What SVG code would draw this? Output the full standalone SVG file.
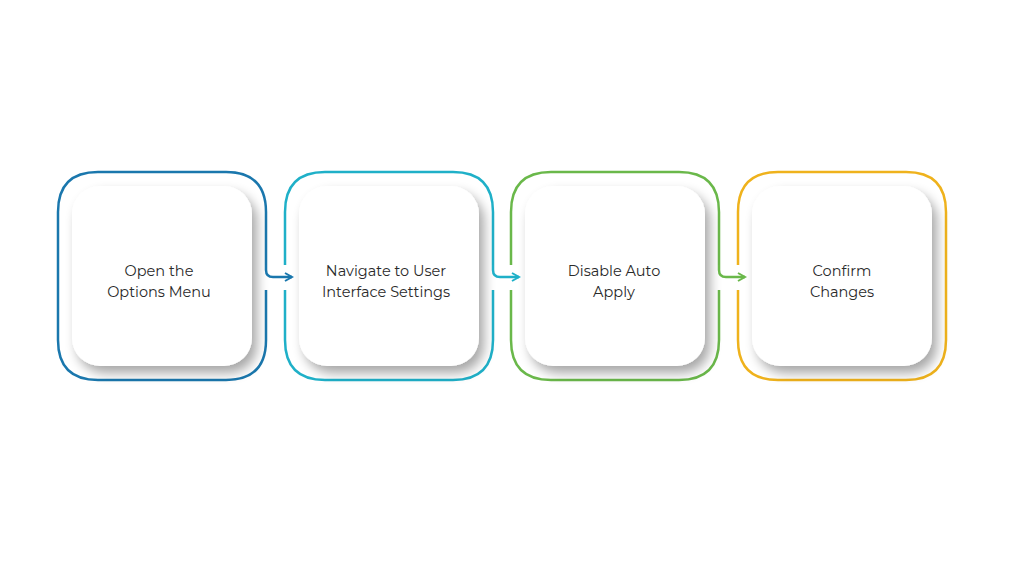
<svg xmlns="http://www.w3.org/2000/svg" width="1024" height="576" viewBox="0 0 1024 576">
<defs>
<filter id="sh" x="-20%" y="-20%" width="150%" height="150%"><feGaussianBlur in="SourceAlpha" stdDeviation="6"/><feOffset dx="5" dy="7"/><feComponentTransfer><feFuncA type="linear" slope="0.35"/></feComponentTransfer><feMerge><feMergeNode/><feMergeNode in="SourceGraphic"/></feMerge></filter>
<marker id="ah" viewBox="0 0 10 10" refX="8" refY="5" markerWidth="10" markerHeight="10" markerUnits="userSpaceOnUse" orient="auto"><path d="M1,1 L8,5 L1,9" fill="none" stroke="context-stroke" stroke-width="2"/></marker>
</defs>
<style>
.o{fill:none;stroke-width:2.5}
.c{fill:#fff}
.t{font-family:Montserrat,"Noto Sans","Liberation Sans",sans-serif;font-size:14.5px;fill:#2a2a2a;text-anchor:middle}
.k{fill:none;stroke-width:2.5}
</style>
<rect width="1024" height="576" fill="#fff"/>
<g id="n1"><path class="o" stroke="#1a77ad" d="M266,265 V212 Q266,172 226,172 H98 Q58,172 58,212 V340 Q58,380 98,380 H226 Q266,380 266,340 V290"/><rect class="c" x="72" y="186" width="180" height="180" rx="28" filter="url(#sh)"/><text class="t" x="159" y="276">Open the</text><text class="t" x="159" y="297">Options Menu</text></g>
<g id="n2"><path class="o" stroke="#1fb0c8" d="M493,265 V212 Q493,172 453,172 H325 Q285,172 285,212 V265 M285,290 V340 Q285,380 325,380 H453 Q493,380 493,340 V290"/><rect class="c" x="299" y="186" width="180" height="180" rx="28" filter="url(#sh)"/><text class="t" x="386" y="276">Navigate to User</text><text class="t" x="386" y="297">Interface Settings</text></g>
<g id="n3"><path class="o" stroke="#6ab84a" d="M719,265 V212 Q719,172 679,172 H551 Q511,172 511,212 V265 M511,290 V340 Q511,380 551,380 H679 Q719,380 719,340 V290"/><rect class="c" x="525" y="186" width="180" height="180" rx="28" filter="url(#sh)"/><text class="t" x="614" y="276">Disable Auto</text><text class="t" x="614" y="297">Apply</text></g>
<g id="n4"><path class="o" stroke="#efb21c" d="M738,265 V212 Q738,172 778,172 H906 Q946,172 946,212 V340 Q946,380 906,380 H778 Q738,380 738,340 V290"/><rect class="c" x="752" y="186" width="180" height="180" rx="28" filter="url(#sh)"/><text class="t" x="842" y="276">Confirm</text><text class="t" x="842" y="297">Changes</text></g>
<g id="connectors">
<path class="k" stroke="#1a77ad" marker-end="url(#ah)" d="M266,265 V270 Q266,277 273,277 H292"/>
<path class="k" stroke="#1fb0c8" marker-end="url(#ah)" d="M493,265 V270 Q493,277 500,277 H519"/>
<path class="k" stroke="#6ab84a" marker-end="url(#ah)" d="M719,265 V270 Q719,277 726,277 H745"/>
</g>
</svg>
